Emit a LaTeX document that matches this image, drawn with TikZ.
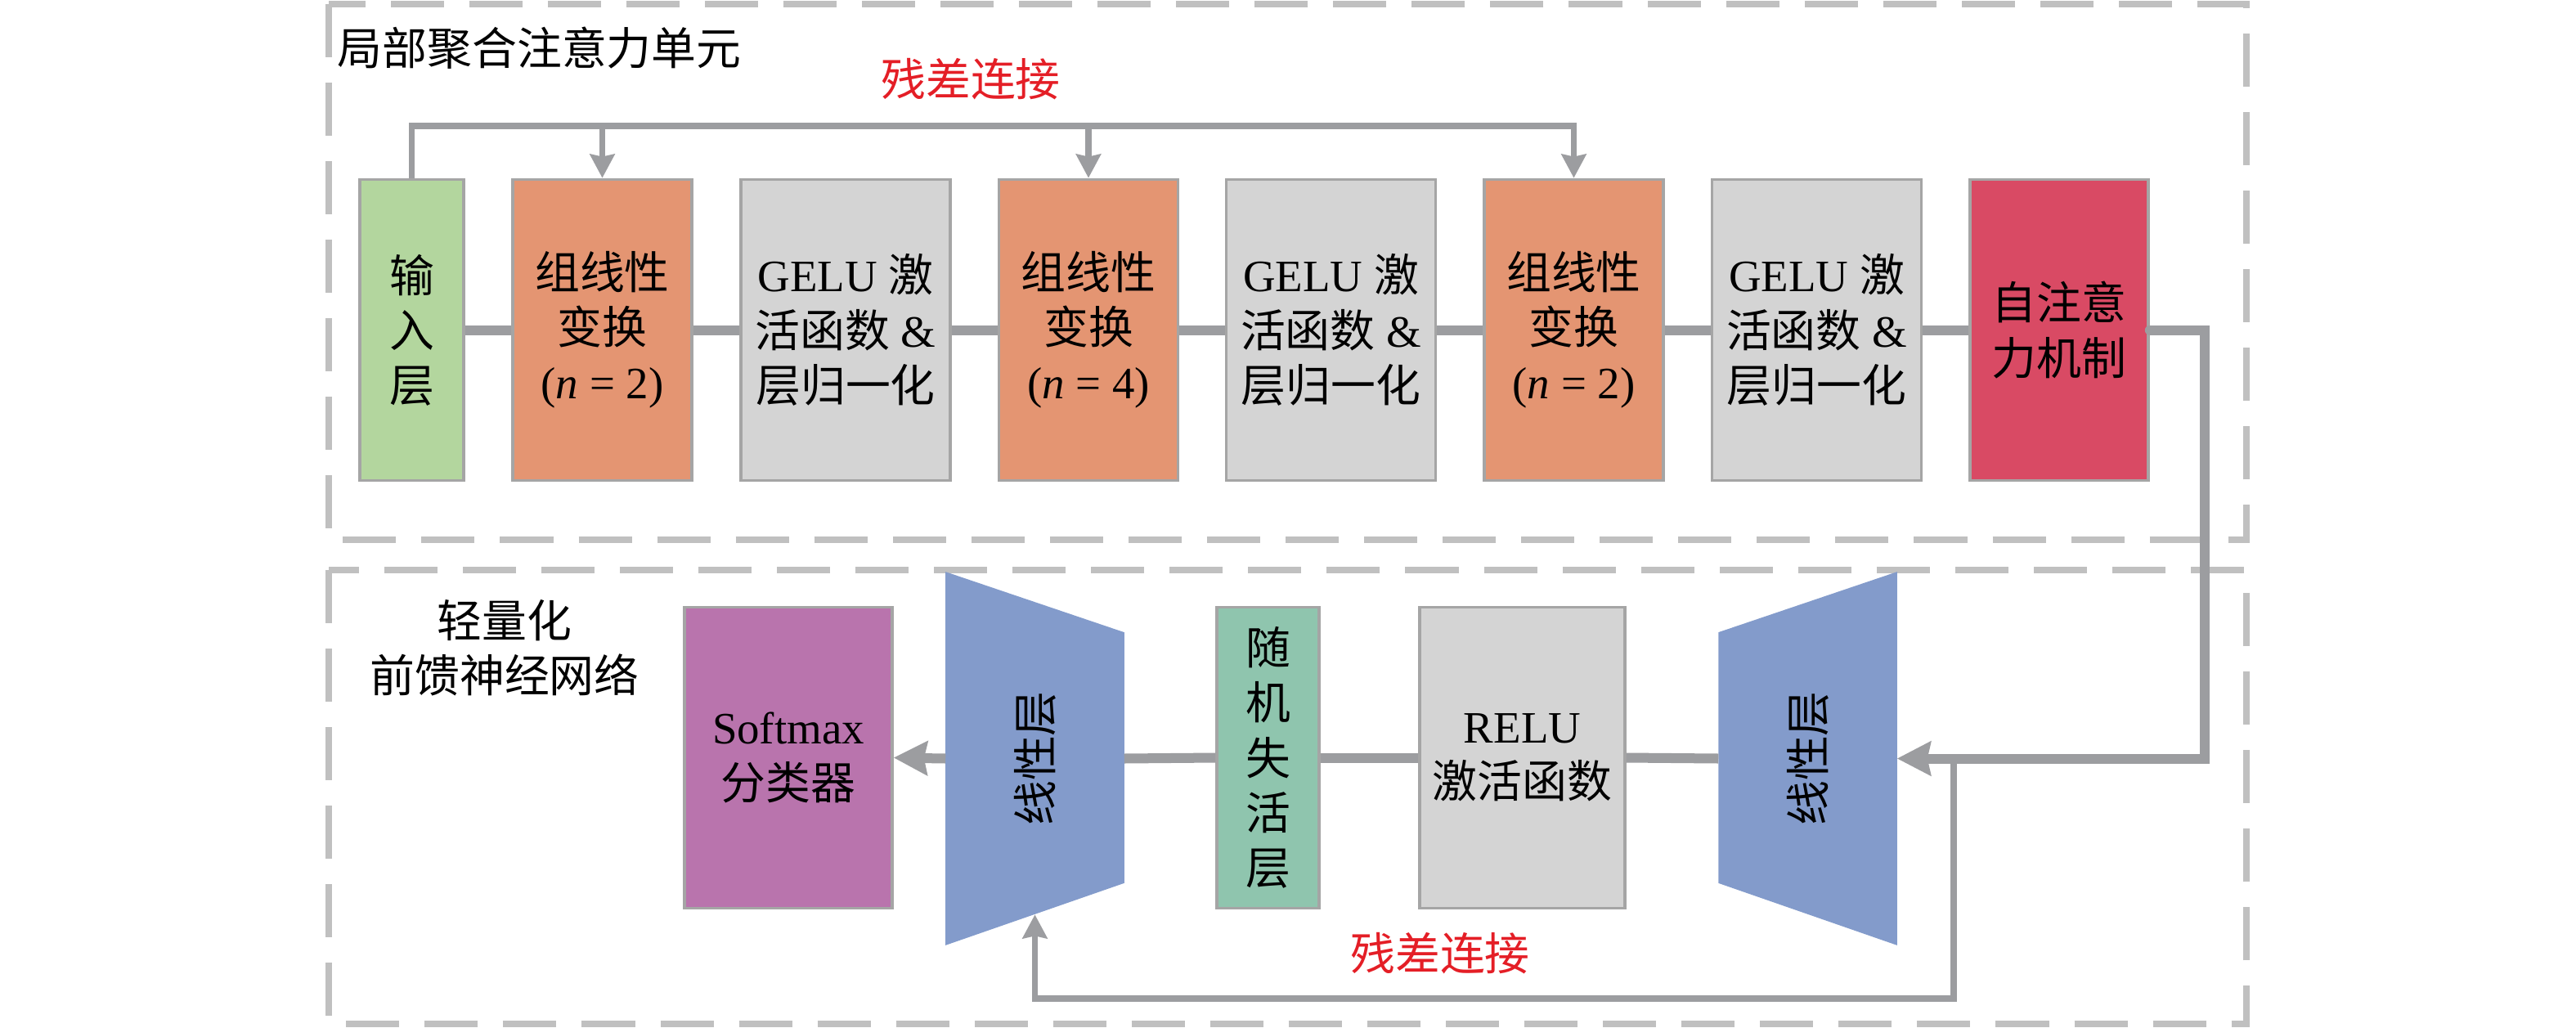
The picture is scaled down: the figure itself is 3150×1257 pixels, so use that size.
\documentclass[tikz,border=0pt]{standalone}
\usepackage{fontspec}
\setmainfont{Liberation Serif}
\newfontfamily\zhfont{Noto Sans CJK SC}
\newcommand{\zh}[1]{{\zhfont #1}}
\usepackage{xcolor}
\usetikzlibrary{calc,arrows.meta}
\definecolor{inpgreen}{RGB}{179,214,158}
\definecolor{gltorange}{RGB}{228,149,114}
\definecolor{gelugray}{RGB}{212,212,212}
\definecolor{attred}{RGB}{217,74,100}
\definecolor{softpurple}{RGB}{185,116,173}
\definecolor{linblue}{RGB}{131,155,203}
\definecolor{dropteal}{RGB}{143,197,174}
\definecolor{boxedge}{RGB}{165,165,165}
\definecolor{linkgray}{RGB}{156,157,160}
\definecolor{dashgray}{RGB}{192,192,192}
\definecolor{resred}{RGB}{228,30,38}

\begin{document}
\begin{tikzpicture}[x=0.01cm,y=-0.01cm,
	every node/.style={font=\fontsize{15.6}{19.1}\selectfont,align=center,inner sep=0pt},
	zhtext/.style={font=\fontsize{15.6}{19.1}\selectfont\zhfont},
	blockbox/.style={draw=boxedge,line width=0.035cm,minimum height=3.68cm},
	gltbox/.style={blockbox,fill=gltorange,minimum width=2.19cm},
	gelubox/.style={blockbox,fill=gelugray,minimum width=2.56cm},
	linshape/.style={minimum width=2.17cm,minimum height=4.55cm},
	linkline/.style={draw=linkgray,line width=0.12cm},
	linkarrow/.style={linkline,-{Stealth[length=0.41cm,width=0.41cm,inset=0.04cm]}},
	resline/.style={draw=linkgray,line width=0.075cm},
	resarrow/.style={resline,-{Stealth[length=0.29cm,width=0.3cm,inset=0.03cm]}},
	unitframe/.style={draw=dashgray,line width=0.075cm,dash pattern=on 0.65cm off 0.31cm}]
\useasboundingbox (0,0) rectangle (3150,1257);
\draw[unitframe] (402,5) rectangle (2747,660);
\draw[unitframe] (402,697) rectangle (2747,1252);
\node[zhtext,anchor=west] (unit1) at (412,59) {局部聚合注意力单元};
\node[zhtext,text=resred] (res1lbl) at (1187,97) {残差连接};
\node[zhtext] (ffn) at (617,792) {轻量化\\前馈神经网络};
\node[zhtext,text=resred] (res2lbl) at (1761,1166) {残差连接};

\node[blockbox,zhtext,fill=inpgreen,minimum width=1.27cm] (inp) at (503.5,403.5) {输\\入\\层};
\foreach \i/\x/\n in {1/736.5/2,2/1331/4,3/1924.5/2}{
	\node[gltbox] (glt\i) at (\x,403.5) {\zh{组线性}\\\zh{变换}\\(\textit{n} = \n)};
	}
\foreach \i/\x in {1/1034,2/1627.5,3/2221.5}{
	\node[gelubox] (gelu\i) at (\x,403.5) {GELU \zh{激}\\\zh{活函数} \&\\\zh{层归一化}};
	}
\node[blockbox,zhtext,fill=attred,minimum width=2.18cm] (att) at (2518,403.5) {自注意\\力机制};

\node[blockbox,fill=softpurple,minimum width=2.54cm] (soft) at (964,926.5) {Softmax\\\zh{分类器}};
\node[blockbox,zhtext,fill=dropteal,minimum width=1.25cm] (drop) at (1550.5,926.5) {随\\机\\失\\活\\层};
\node[blockbox,fill=gelugray,minimum width=2.51cm] (relu) at (1861.5,926.5) {RELU\\\zh{激活函数}};
\node[linshape] (lin1) at (2210.5,927.5) {}; \node[linshape] (lin2) at (1265.5,927.5) {};
\fill[linblue] (lin1.north east) -- (lin1.south east) -- ($(lin1.south west)+(0,-76)$) -- ($(lin1.north west)+(0,74)$) -- cycle;
\fill[linblue] (lin2.north west) -- (lin2.south west) -- ($(lin2.south east)+(0,-76)$) -- ($(lin2.north east)+(0,74)$) -- cycle;
\node[zhtext,rotate=90] (lin1txt) at (lin1) {线性层}; \node[zhtext,rotate=90] (lin2txt) at (lin2) {线性层};

\foreach \a/\b in {inp/glt1,glt1/gelu1,gelu1/glt2,glt2/gelu2,gelu2/glt3,glt3/gelu3,gelu3/att}{
	\draw[linkline] (\a.east) -- (\b.west);
	}
\coordinate (rtop) at (503.5,154);
\draw[resarrow] (inp.north) -- (rtop) -| (glt3.north);
\foreach \i in {1,2}{
	\draw[resarrow] (glt\i.north |- rtop) -- (glt\i.north);
	}
\draw[linkarrow,line cap=round] (att.east) -- ++(67,0) |- (lin1.east);
\draw[linkline] (lin1.west) -- (relu.east); \draw[linkline] (relu.west) -- (drop.east);
\draw[linkline] (drop.west) -- (lin2.east); \draw[linkarrow] (lin2.west) -- (soft.east);
\coordinate (rbr) at ($(lin1.east)+(69,0)$); \coordinate (lin2bot) at ($(lin2.south)+(0,-37.5)$);
\coordinate (rbot) at (lin2bot |- 0,1221);
\draw[resarrow] (rbr) |- (rbot) -- (lin2bot);
\end{tikzpicture}
\end{document}
